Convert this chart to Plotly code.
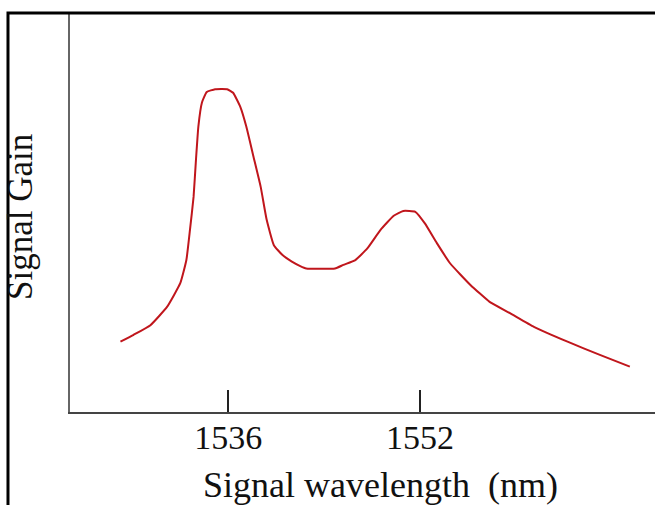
import plotly.graph_objects as go

wavelength_nm = [1527.0, 1528.1, 1529.5, 1530.9, 1532.0, 1532.5, 1532.8, 1533.1, 1533.3,
                 1533.5, 1533.8, 1534.2, 1534.9, 1535.9, 1536.4, 1537.0, 1537.5, 1538.1,
                 1538.7, 1539.2, 1539.8, 1540.5, 1541.3, 1542.0, 1542.5, 1544.9, 1545.6,
                 1546.6, 1547.6, 1548.7, 1549.8, 1550.6, 1551.6, 1552.4, 1553.4, 1554.5,
                 1556.2, 1557.8, 1559.5, 1561.5, 1564.3, 1567.0, 1569.5]
signal_gain = [17.5, 19.2, 21.6, 26.2, 32.1, 37.8, 45.3, 53.5, 62.7,
               71.0, 77.0, 79.6, 80.3, 80.3, 79.4, 75.9, 71.0, 63.5,
               56.0, 47.8, 41.5, 39.1, 37.4, 36.3, 35.7, 35.7, 36.6,
               37.8, 40.7, 45.3, 48.8, 50.0, 49.8, 46.9, 42.0, 37.0,
               31.6, 27.4, 24.6, 21.2, 17.5, 14.2, 11.3]
tick_values = [1536, 1552]
tick_labels = ["1536", "1552"]

SERIF = "Liberation Serif, Times New Roman, serif"

fig = go.Figure()
fig.add_trace(go.Scatter(
    x=wavelength_nm, y=signal_gain, mode="lines",
    line=dict(color="#c0161c", width=2, shape="spline", smoothing=0.4),
    hoverinfo="skip", showlegend=False,
))

fig.update_layout(
    width=655, height=505,
    margin=dict(l=70, r=0, t=14, b=93),
    paper_bgcolor="white", plot_bgcolor="white",
    xaxis=dict(
        range=[1522.79, 1571.6], showgrid=False, zeroline=False,
        showline=True, linecolor="#444", linewidth=2,
        tickmode="array", tickvals=tick_values, ticktext=tick_labels,
        ticks="inside", ticklen=22, tickwidth=2, tickcolor="#222",
        tickfont=dict(family=SERIF, size=34, color="#111"),
        ticklabelstandoff=-6,
        fixedrange=True,
    ),
    yaxis=dict(
        range=[0, 99.0], showgrid=False, zeroline=False,
        showline=True, linecolor="#666", linewidth=2,
        showticklabels=False, ticks="", fixedrange=True,
    ),
    annotations=[
        dict(text="Signal wavelength \u00a0(nm)", xref="paper", yref="paper",
             x=0.5316, y=-0.184, xanchor="center", yanchor="middle",
             showarrow=False, font=dict(family=SERIF, size=36, color="#111")),
        dict(text="Signal Gain", xref="paper", yref="paper",
             x=-0.0838, y=0.49, xanchor="center", yanchor="middle", textangle=-90,
             showarrow=False, font=dict(family=SERIF, size=35, color="#111")),
    ],
    shapes=[
        dict(type="rect", xref="paper", yref="paper", x0=-0.106, x1=1.05,
             y0=-0.3, y1=1.0025, layer="above",
             line=dict(color="black", width=3), fillcolor="rgba(0,0,0,0)"),
    ],
)

fig.write_html(
    "out.html", config={"displayModeBar": False},
    post_script=("document.documentElement.style.overflow='hidden';"
                 "document.body.style.margin='0';"
                 "document.body.style.overflow='hidden';"
                 "window.scrollTo(0,0);"),
)
